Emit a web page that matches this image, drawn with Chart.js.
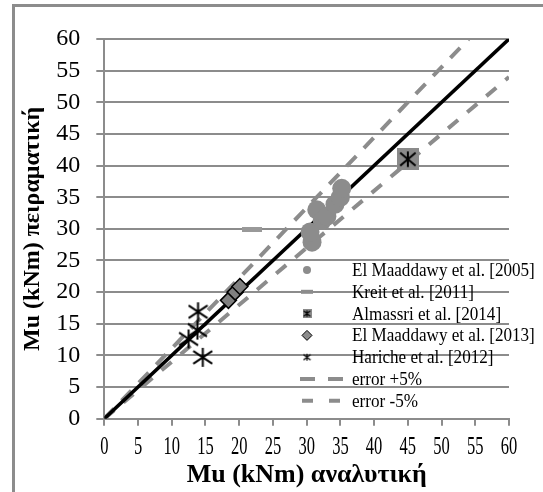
<!DOCTYPE html>
<html>
<head>
<meta charset="utf-8">
<script src="https://cdn.jsdelivr.net/npm/chart.js@4.4.0/dist/chart.umd.min.js"></script>
<style>
  html, body { margin: 0; padding: 0; background: #fff; overflow: hidden; }
  #wrap { position: relative; width: 543px; height: 492px; }
  #frame { position: absolute; left: 12px; top: 4px; width: 600px; height: 600px;
           border-left: 3px solid #8c8c8c; border-top: 3px solid #8c8c8c; pointer-events: none; }
</style>
</head>
<body>
<div id="wrap">
  <canvas id="chart" width="543" height="492"></canvas>
  <div id="frame"></div>
</div>
<script>
const xTicks = [0, 5, 10, 15, 20, 25, 30, 35, 40, 45, 50, 55, 60];
const yTicks = [0, 5, 10, 15, 20, 25, 30, 35, 40, 45, 50, 55, 60];

const seriesNames = ["El Maaddawy et al. [2005]", "Kreit et al. [2011]", "Almassri et al. [2014]",
                     "El Maaddawy et al. [2013]", "Hariche et al. [2012]", "error +5%", "error -5%"];

const maaddawy05X = [30.8, 30.5, 31.5, 32.3, 33.0, 34.2, 35.0, 35.2];
const maaddawy05Y = [27.9, 29.5, 33.0, 31.3, 32.0, 33.9, 35.0, 36.4];
const kreitX = [21.9];
const kreitY = [29.9];
const almassriX = [45.0];
const almassriY = [41.0];
const maaddawy13X = [18.4, 19.4, 20.1];
const maaddawy13Y = [18.7, 20.0, 20.9];
const haricheX = [13.9, 13.8, 12.5, 14.6];
const haricheY = [16.9, 14.0, 12.6, 9.7];

const equalX = [0, 60], equalY = [0, 60];
const plusX = [0, 54], plusY = [0, 60];
const minusX = [0, 60], minusY = [0, 54];

const toPoints = (xs, ys) => xs.map((x, i) => ({ x: x, y: ys[i] }));

const GREY = "#8c8c8c";
const SERIF = '"Liberation Serif", "Times New Roman", serif';

// star marker: vertical stroke + X, optionally on a grey square
function starMarker(size, lw, bg) {
    const c = document.createElement("canvas");
    c.width = c.height = size;
    const g = c.getContext("2d");
    if (bg) { g.fillStyle = bg; g.fillRect(0, 0, size, size); }
    const p = bg ? size * 0.15 : 1;
    g.strokeStyle = "#000";
    g.lineWidth = lw;
    g.beginPath();
    g.moveTo(size / 2, p); g.lineTo(size / 2, size - p);
    g.moveTo(p, size * 0.2); g.lineTo(size - p, size * 0.8);
    g.moveTo(p, size * 0.8); g.lineTo(size - p, size * 0.2);
    g.stroke();
    return c;
}

const haricheMark = starMarker(21, 2, null);
const almassriMark = starMarker(22, 2, "#8a8a8a");
const haricheSmall = starMarker(9, 1.2, null);
const almassriSmall = starMarker(9, 1.2, "#8a8a8a");

const xLabels = {
    id: "xLabels",
    afterDraw(chart) {
        const ctx = chart.ctx, sx = chart.scales.x;
        ctx.save();
        ctx.fillStyle = "#000";
        ctx.font = "25px " + SERIF;
        ctx.textAlign = "center";
        ctx.textBaseline = "middle";
        xTicks.forEach(v => {
            ctx.save();
            ctx.translate(sx.getPixelForValue(v), 447);
            ctx.scale(0.66, 1);
            ctx.fillText(String(v), 0, 0);
            ctx.restore();
        });
        ctx.restore();
    }
};

const innerLegend = {
    id: "innerLegend",
    afterDraw(chart) {
        const ctx = chart.ctx;
        const top = 270, step = 21.8, tx = 352, mx = 307;
        ctx.save();
        seriesNames.forEach((name, i) => {
            const y = top + i * step;
            ctx.fillStyle = GREY; ctx.strokeStyle = GREY;
            if (i === 0) { ctx.beginPath(); ctx.arc(mx, y, 4, 0, Math.PI * 2); ctx.fill(); }
            if (i === 1) { ctx.fillRect(mx - 6, y - 2, 12, 4); }
            if (i === 2) { ctx.drawImage(almassriSmall, mx - 4.5, y - 4.5); }
            if (i === 3) {
                ctx.beginPath(); ctx.moveTo(mx, y - 5); ctx.lineTo(mx + 5, y); ctx.lineTo(mx, y + 5); ctx.lineTo(mx - 5, y); ctx.closePath();
                ctx.fill(); ctx.strokeStyle = "#000"; ctx.lineWidth = 1; ctx.stroke();
            }
            if (i === 4) { ctx.drawImage(haricheSmall, mx - 4.5, y - 4.5); }
            if (i >= 5) {
                ctx.strokeStyle = GREY; ctx.lineWidth = 4;
                ctx.setLineDash(i === 5 ? [15, 13] : [11, 16]);
                ctx.beginPath(); ctx.moveTo(i === 5 ? 300 : 302, y); ctx.lineTo(344, y); ctx.stroke();
                ctx.setLineDash([]);
            }
            ctx.save();
            ctx.translate(tx, y);
            ctx.scale(0.9, 1);
            ctx.fillStyle = "#000";
            ctx.font = "19px " + SERIF;
            ctx.textBaseline = "middle";
            ctx.fillText(name, 0, 1);
            ctx.restore();
        });
        ctx.restore();
    }
};

new Chart(document.getElementById("chart"), {
    type: "scatter",
    data: {
        datasets: [
            { label: seriesNames[4], data: toPoints(haricheX, haricheY), pointStyle: haricheMark, pointRadius: 10 },
            { label: seriesNames[3], data: toPoints(maaddawy13X, maaddawy13Y), pointStyle: "rectRot", pointRadius: 8,
              backgroundColor: "#808080", borderColor: "#000", borderWidth: 1.5 },
            { label: seriesNames[2], data: toPoints(almassriX, almassriY), pointStyle: almassriMark, pointRadius: 11 },
            { label: seriesNames[1], data: toPoints(kreitX, kreitY), pointStyle: "line", pointRadius: 10,
              borderColor: "#999", borderWidth: 5 },
            { label: seriesNames[0], data: toPoints(maaddawy05X, maaddawy05Y), pointStyle: "circle", pointRadius: 9.5,
              backgroundColor: GREY, borderWidth: 0 },
            { label: "y = x", data: toPoints(equalX, equalY), showLine: true, pointRadius: 0,
              borderColor: "#000", borderWidth: 3.5 },
            { label: seriesNames[5], data: toPoints(plusX, plusY), showLine: true, pointRadius: 0,
              borderColor: GREY, borderWidth: 4, borderDash: [14, 11] },
            { label: seriesNames[6], data: toPoints(minusX, minusY), showLine: true, pointRadius: 0,
              borderColor: GREY, borderWidth: 4, borderDash: [13, 12] }
        ]
    },
    options: {
        responsive: false,
        animation: false,
        devicePixelRatio: 1,
        layout: { padding: { top: 39, right: 34, left: 0, bottom: 0 } },
        plugins: { legend: { display: false }, tooltip: { enabled: false } },
        scales: {
            x: {
                type: "linear", min: 0, max: 60,
                afterBuildTicks: s => { s.ticks = xTicks.map(v => ({ value: v })); },
                afterFit: s => { s.height = 73.3; },
                grid: { drawOnChartArea: false, drawTicks: true, tickLength: 7, color: GREY, lineWidth: 2 },
                border: { color: GREY, width: 2 },
                ticks: { display: false },
                title: { display: true, text: "Mu (kNm) αναλυτική", color: "#000",
                         font: { family: SERIF, size: 26, weight: "bold" }, padding: { top: 0, bottom: 1 } }
            },
            y: {
                type: "linear", min: 0, max: 60,
                afterBuildTicks: s => { s.ticks = yTicks.map(v => ({ value: v })); },
                afterFit: s => { s.width = 104.3; },
                grid: { color: GREY, lineWidth: 2, tickLength: 8 },
                border: { color: GREY, width: 2 },
                ticks: { color: "#000", padding: 16, autoSkip: false, font: { family: SERIF, size: 24 } },
                title: { display: true, text: "Mu (kNm) πειραματική", color: "#000",
                         font: { family: SERIF, size: 24, weight: "bold" }, padding: { top: 18.6, bottom: 0 } }
            }
        }
    },
    plugins: [xLabels, innerLegend]
});
</script>
</body>
</html>
